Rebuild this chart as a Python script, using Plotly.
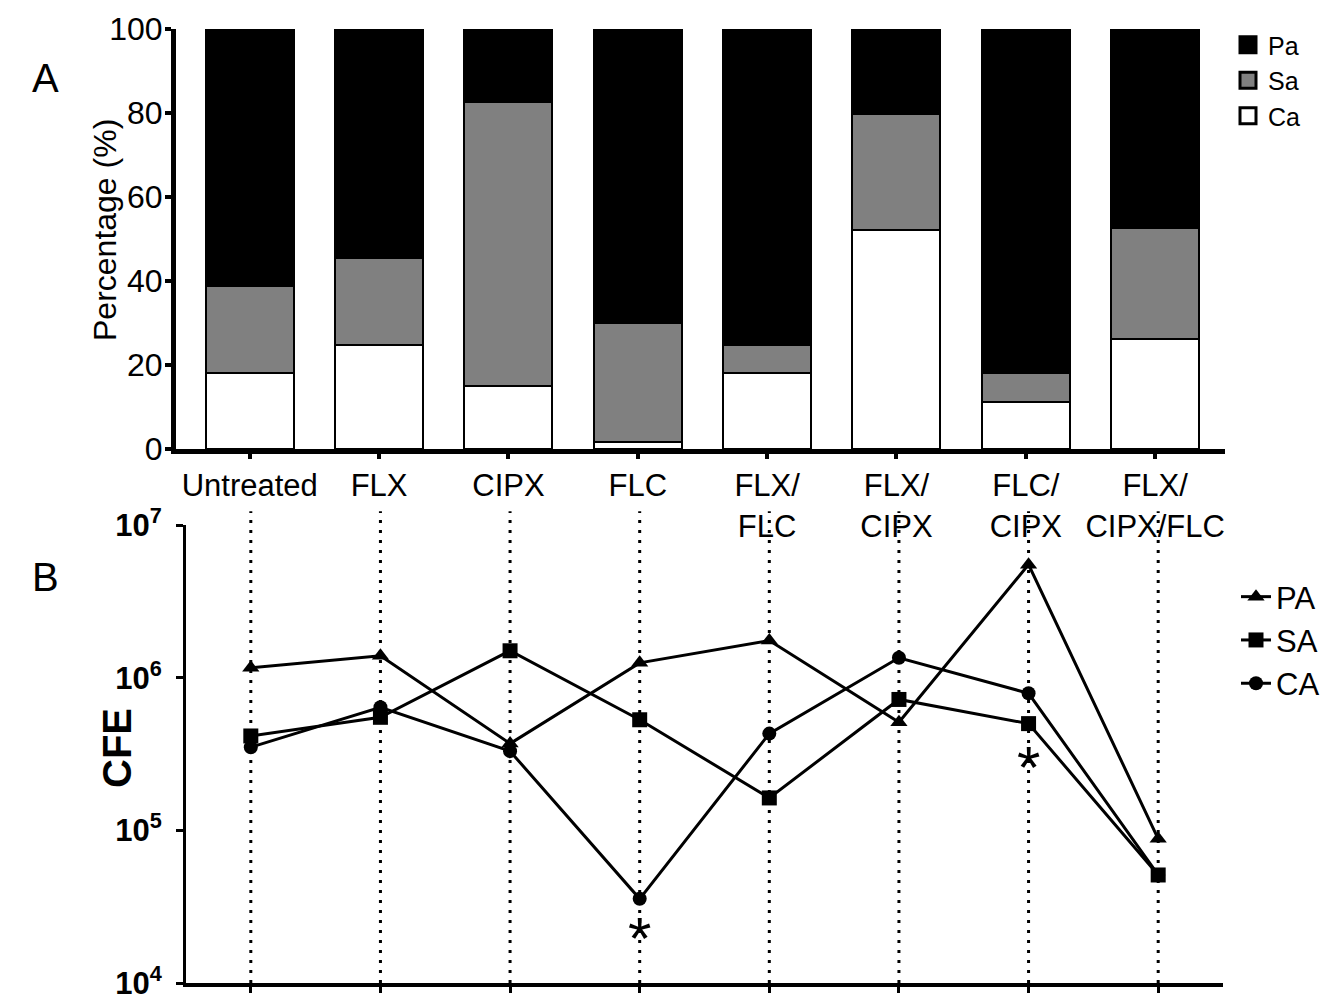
import numpy as np
import plotly.graph_objects as go

categories = ["Untreated", "FLX", "CIPX", "FLC", "FLX/<br>FLC", "FLX/<br>CIPX", "FLC/<br>CIPX", "FLX/<br>CIPX/FLC"]

# Panel A: composition (%)
ca_pct = [18.1, 24.8, 15.0, 1.7, 18.0, 52.2, 11.2, 26.2]
sa_pct = [20.7, 20.7, 67.6, 28.3, 6.7, 27.6, 6.9, 26.4]
pa_pct = [61.2, 54.5, 17.4, 70.0, 75.3, 20.2, 82.0, 47.4]

# Panel B: CFE
pa_cfe = [1.16e6, 1.39e6, 3.7e5, 1.25e6, 1.75e6, 5.1e5, 5.5e6, 8.8e4]
sa_cfe = [4.15e5, 5.5e5, 1.5e6, 5.3e5, 1.63e5, 7.2e5, 5.0e5, 5.1e4]
ca_cfe = [3.5e5, 6.4e5, 3.3e5, 3.56e4, 4.3e5, 1.35e6, 7.9e5, 5.1e4]

star_idx = [3, 6]  # significance markers
star_series = [ca_cfe, sa_cfe]
star_shift = [-40, -44]

x = list(range(len(categories)))
FONT = "Liberation Sans, Arial, sans-serif"
H = 994.0
W = 1330.0
OFF = 8.0  # page body margin


def px(v):
    return (v - OFF) / W


def py(v):
    return 1 - (v - OFF) / H


fig = go.Figure()

bar_specs = [("Ca", ca_pct, "white"), ("Sa", sa_pct, "#808080"), ("Pa", pa_pct, "black")]
for name, vals, color in bar_specs:
    fig.add_trace(go.Bar(
        x=x, y=vals, name=name, width=0.68, showlegend=False,
        marker=dict(color=color, line=dict(color="black", width=2.5)),
        xaxis="x", yaxis="y",
    ))

# legend entries for panel A (large square swatches)
for name, vals, color in reversed(bar_specs):
    fig.add_trace(go.Scatter(
        x=[None], y=[None], name=name, mode="markers",
        marker=dict(symbol="square", size=16, color=color, line=dict(color="black", width=3)),
        xaxis="x", yaxis="y", legend="legend",
    ))

for name, vals, sym, ms in [("PA", pa_cfe, "triangle-up", 15), ("SA", sa_cfe, "square", 15), ("CA", ca_cfe, "circle", 14)]:
    fig.add_trace(go.Scatter(
        x=x, y=vals, name=name, mode="lines+markers",
        line=dict(color="black", width=3),
        marker=dict(symbol=sym, size=ms, color="black"),
        xaxis="x2", yaxis="y2", legend="legend2",
    ))

# dotted vertical guide lines in panel B
for xi in x:
    fig.add_shape(type="line", xref="x2", yref="y2 domain", x0=xi, x1=xi, y0=0, y1=1.03,
                  line=dict(color="black", width=3, dash="3px,7px"), layer="below")

# significance asterisks
for i, ser, sh in zip(star_idx, star_series, star_shift):
    fig.add_annotation(x=i, y=np.log10(ser[i]), xref="x2", yref="y2", text="*",
                       showarrow=False, yshift=sh, font=dict(family=FONT, size=60, color="black"))

# panel letters
fig.add_annotation(x=px(45), y=py(78), xref="paper", yref="paper", text="A", showarrow=False,
                   xanchor="center", yanchor="middle",
                   font=dict(family=FONT, size=40, color="black"))
fig.add_annotation(x=px(45), y=py(577), xref="paper", yref="paper", text="B", showarrow=False,
                   xanchor="center", yanchor="middle",
                   font=dict(family=FONT, size=40, color="black"))

# axis titles
fig.add_annotation(x=px(105), y=py(230), xref="paper", yref="paper", text="Percentage (%)",
                   textangle=-90, showarrow=False, xanchor="center", yanchor="middle",
                   font=dict(family=FONT, size=32, color="black"))
fig.add_annotation(x=px(117), y=py(748), xref="paper", yref="paper", text="<b>CFE</b>",
                   textangle=-90, showarrow=False, xanchor="center", yanchor="middle",
                   font=dict(family=FONT, size=40, color="black"))

ytv = [1e4, 1e5, 1e6, 1e7]
ytt = ["<b>10<sup>4</sup></b>", "<b>10<sup>5</sup></b>", "<b>10<sup>6</sup></b>", "<b>10<sup>7</sup></b>"]

fig.update_layout(
    width=1330, height=994,
    margin=dict(l=0, r=0, t=0, b=0, autoexpand=False),
    paper_bgcolor="white", plot_bgcolor="white",
    barmode="stack", bargap=0,
    font=dict(family=FONT, color="black"),
    xaxis=dict(domain=[px(176), px(1225)], anchor="y", range=[-0.57, 7.54], automargin=False,
               tickvals=x, ticktext=categories, ticks="outside", ticklen=5, tickwidth=4,
               tickcolor="black", showline=True, linecolor="black", linewidth=5,
               showgrid=False, zeroline=False, tickfont=dict(size=31, family=FONT)),
    yaxis=dict(domain=[py(449), py(29)], anchor="x", range=[0, 100], automargin=False,
               tickvals=[0, 20, 40, 60, 80, 100], ticks="outside", ticklen=6, tickwidth=4,
               tickcolor="black", showline=True, linecolor="black", linewidth=5,
               showgrid=False, zeroline=False, tickfont=dict(size=32, family=FONT),
               ticklabelstandoff=-4),
    xaxis2=dict(domain=[px(186), px(1223)], anchor="y2", range=[-0.5, 7.5], automargin=False,
                tickvals=x, showticklabels=False, ticks="outside", ticklen=6, tickwidth=3,
                tickcolor="black", showline=True, linecolor="black", linewidth=4,
                showgrid=False, zeroline=False),
    yaxis2=dict(domain=[py(983), py(525)], anchor="x2", type="log", range=[4, 7],
                automargin=False,
                tickvals=ytv, ticktext=ytt, ticks="outside", ticklen=7, tickwidth=3,
                tickcolor="black", showline=True, linecolor="black", linewidth=3,
                showgrid=False, zeroline=False, tickfont=dict(size=31, family=FONT),
                ticklabelstandoff=8),
    legend=dict(x=px(1228), y=py(22), xanchor="left", yanchor="top", traceorder="normal",
                font=dict(size=25, family=FONT), bgcolor="rgba(0,0,0,0)", itemwidth=30,
                tracegroupgap=0),
    legend2=dict(x=px(1236), y=py(570), xanchor="left", yanchor="top", traceorder="normal",
                 font=dict(size=31, family=FONT), bgcolor="rgba(0,0,0,0)", itemwidth=30,
                 tracegroupgap=10),
    showlegend=True,
)

fig.write_html("out.html")
